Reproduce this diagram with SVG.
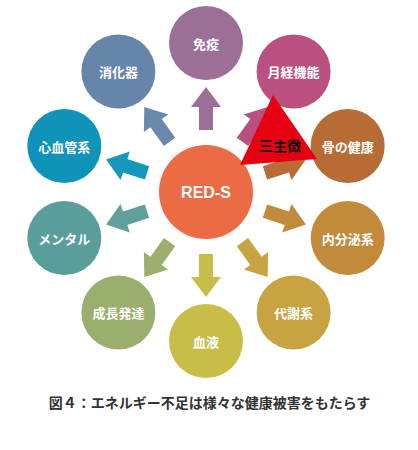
<svg xmlns="http://www.w3.org/2000/svg" width="418" height="450" viewBox="0 0 418 450">
<defs>
<style>
.lbl{font-family:"Noto Sans CJK JP","Noto Sans CJK SC",sans-serif;font-size:13px;font-weight:bold;fill:#fff;text-anchor:middle;dominant-baseline:central}
.main{font-family:"Liberation Sans",Arial,sans-serif;font-size:16px;font-weight:bold;fill:#fff;text-anchor:middle}
.tri{font-family:"Noto Sans CJK JP","Noto Sans CJK SC",sans-serif;font-size:14px;font-weight:bold;fill:#111;text-anchor:middle}
.cap{font-family:"Noto Sans CJK JP","Noto Sans CJK SC",sans-serif;font-size:14px;font-weight:bold;fill:#333;text-anchor:middle}
</style>
<polygon id="arr" points="199,130 199,107 191,107 206,87 221,107 213,107 213,130"/>
</defs>
<rect width="418" height="450" fill="#fff"/>
<g id="connectors">
<use href="#arr" fill="#9b6f98"/>
<use href="#arr" fill="#6a88ad" transform="rotate(-36 206 192)"/>
<use href="#arr" fill="#b9507f" transform="rotate(36 206 192)"/>
<use href="#arr" fill="#1596bb" transform="rotate(-72 206 192)"/>
<use href="#arr" fill="#b86c35" transform="rotate(72 206 192)"/>
<use href="#arr" fill="#5fa09d" transform="rotate(-108 206 192)"/>
<use href="#arr" fill="#c48a3b" transform="rotate(108 206 192)"/>
<use href="#arr" fill="#9caf6f" transform="rotate(-144 206 192)"/>
<use href="#arr" fill="#c7a342" transform="rotate(144 206 192)"/>
<use href="#arr" fill="#c8bd48" transform="rotate(180 206 192)"/>
</g>
<g id="n-meneki"><circle cx="206" cy="43" r="37" fill="#9b6f98"/><text class="lbl" x="206" y="43">免疫</text></g>
<g id="n-shoukaki"><circle cx="118.4" cy="71.5" r="37" fill="#6585aa"/><text class="lbl" x="118.4" y="71.5">消化器</text></g>
<g id="n-gekkei"><circle cx="293.6" cy="71.5" r="37" fill="#b9507f"/><text class="lbl" x="293.6" y="71.5">月経機能</text></g>
<g id="n-shinkekkan"><circle cx="64.3" cy="146" r="37" fill="#0f93b8"/><text class="lbl" x="64.3" y="146">心血管系</text></g>
<g id="n-hone"><circle cx="347.7" cy="146" r="37" fill="#b86c35"/><text class="lbl" x="347.7" y="146">骨の健康</text></g>
<g id="n-mental"><circle cx="64.3" cy="238" r="37" fill="#5a9e9b"/><text class="lbl" x="64.3" y="238">メンタル</text></g>
<g id="n-naibunpi"><circle cx="347.7" cy="238" r="37" fill="#c48a3b"/><text class="lbl" x="347.7" y="238">内分泌系</text></g>
<g id="n-seichou"><circle cx="118.4" cy="312.5" r="37" fill="#9aae6d"/><text class="lbl" x="118.4" y="312.5">成長発達</text></g>
<g id="n-taisha"><circle cx="293.6" cy="312.5" r="37" fill="#c7a342"/><text class="lbl" x="293.6" y="312.5">代謝系</text></g>
<g id="n-ketsueki"><circle cx="206" cy="341" r="37" fill="#c8bd48"/><text class="lbl" x="206" y="341">血液</text></g>
<g id="n-reds"><circle cx="206" cy="192" r="47" fill="#eb6b45"/><text class="main" x="206" y="198">RED-S</text></g>
<g id="n-sanshucho"><polygon points="273,95 240,165 317,159" fill="#e60012"/><text class="tri" x="280" y="151">三主徴</text></g>
<text class="cap" x="209.5" y="408">図４：エネルギー不足は様々な健康被害をもたらす</text>
</svg>
